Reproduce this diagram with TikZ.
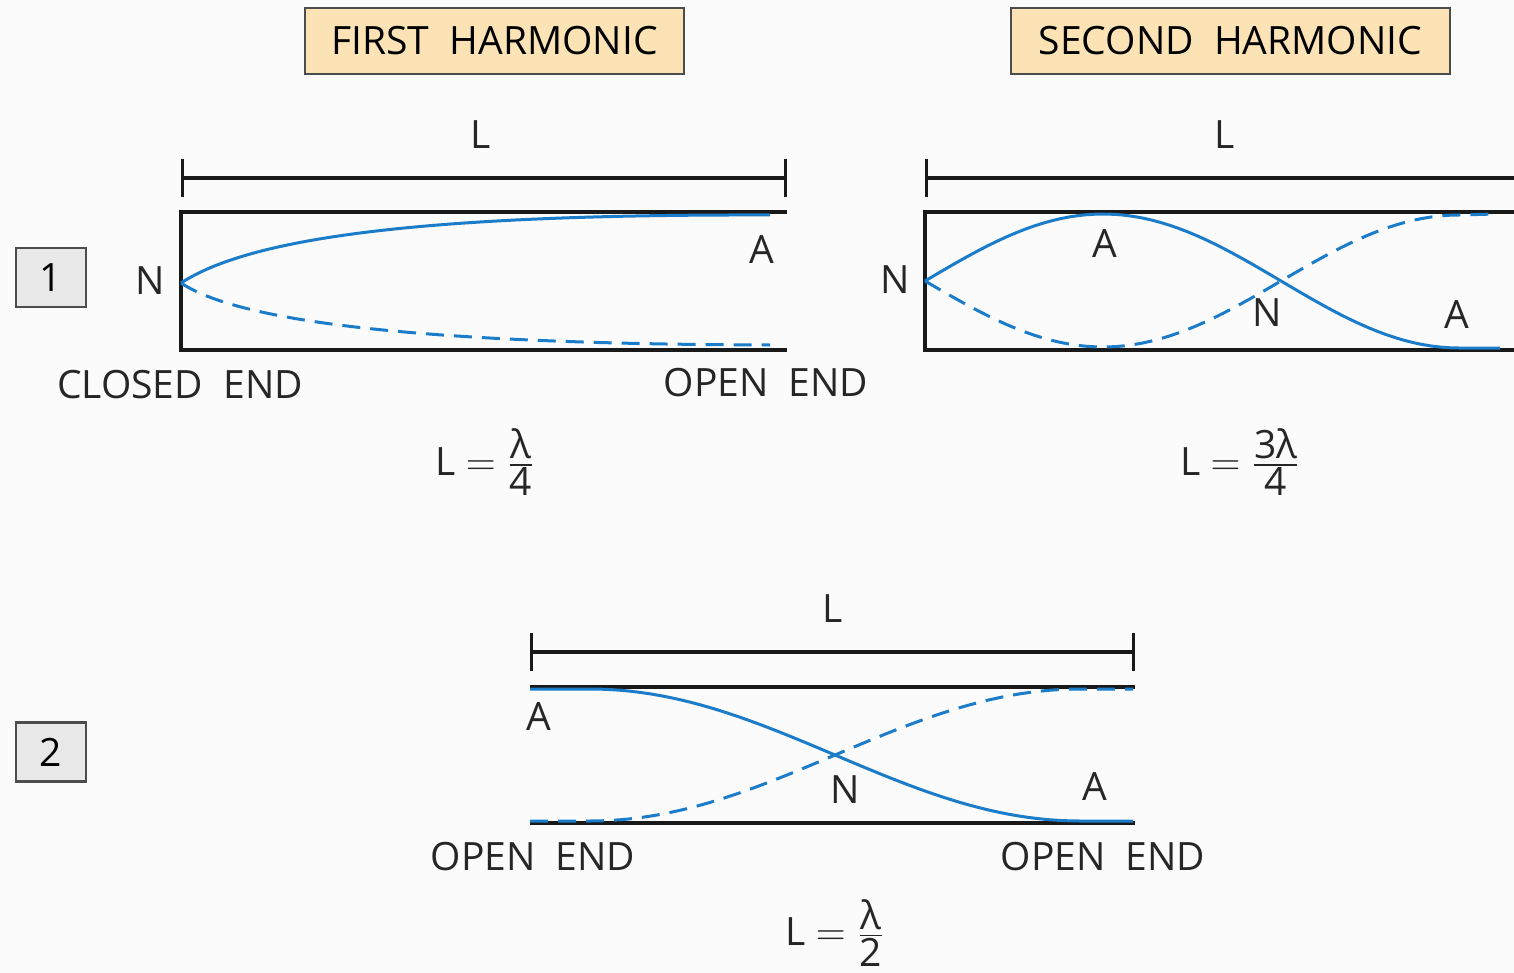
\documentclass[tikz,border=0pt]{standalone}
\usepackage{amsmath}
\usepackage{fontspec}
\setmainfont{Open Sans}
\usetikzlibrary{arrows.meta, positioning, calc}

\definecolor{wave}{HTML}{1B7CC9}
\definecolor{titlefill}{HTML}{FCE3B5}
\definecolor{numfill}{HTML}{E8E8E8}
\definecolor{paper}{HTML}{FBFBFB}

\begin{document}
\begin{tikzpicture}[
    x=0.5pt, y=-0.5pt,
    font=\fontsize{19.5}{23}\selectfont,
    line width=1.5pt,
    title/.style={draw=black!70, fill=titlefill, line width=1.2pt, minimum height=33pt, inner sep=0pt},
    numbox/.style={draw=black!70, fill=numfill, line width=1.2pt, minimum width=35pt, minimum height=29.5pt, inner sep=0pt},
    pipe/.style={draw=black!90, line width=1.6pt},
    dimline/.style={draw=black!90, line width=1.6pt, {Bar[width=19pt]}-{Bar[width=19pt]}},
    wave/.style={draw=wave, line width=1.5pt},
    wavedash/.style={wave, dash pattern=on 9pt off 5pt},
    lbl/.style={inner sep=0pt, text=black!85}
  ]
  \fill[paper] (0,0) rectangle (1514,973);
  \useasboundingbox (0,0) rectangle (1514,973);

  % --- titulos ---
  \node[title, minimum width=189.5pt] (first)  at (494.5,41) {FIRST~~HARMONIC};
  \node[title, minimum width=219.5pt] (second) at (1230.5,41) {SECOND~~HARMONIC};
  \node[numbox] (one) at (51,277.5) {1};
  \node[numbox] (two) at (51,752) {2};

  % --- tubo 1: cerrado / abierto ---
  \coordinate (atl) at (181,212);
  \coordinate (atr) at (787,212);
  \coordinate (abl) at (181,350);
  \coordinate (abr) at (787,350);
  \coordinate (adl) at (181,178);
  \coordinate (adr) at (787,178);
  \draw[pipe] (atr) -- (atl) -- (abl) -- (abr);
  \draw[dimline] (adl) -- (adr);
  \node[lbl] (aL) at (481,135) {L};
  \draw[wave] (181,283) .. controls (250,238) and (420,214) .. (770,215);
  \draw[wavedash] (181,283) .. controls (240,322) and (420,344) .. (770,345);
  \node[lbl] (aN) at (150,281) {N};
  \node[lbl] (aA) at (762,250) {A};
  \node[lbl] (aclosed) at (180,385) {CLOSED~~END};
  \node[lbl] (aopen) at (766,383) {OPEN~~END};
  \node[lbl] (aeq) at (485,462) {L $=\frac{\mbox{λ}}{\mbox{4}}$};

  % --- tubo 2: segundo armonico ---
  \coordinate (btl) at (925,212);
  \coordinate (btr) at (1520,212);
  \coordinate (bbl) at (925,350);
  \coordinate (bbr) at (1520,350);
  \coordinate (bdl) at (925,178);
  \coordinate (bdr) at (1520,178);
  \draw[pipe] (btr) -- (btl) -- (bbl) -- (bbr);
  \draw[pipe, {Bar[width=19pt]}-] (bdl) -- (bdr);
  \node[lbl] (bL) at (1225,135) {L};
  \draw[wave] plot[domain=0:3, samples=60] ({925+178*\x}, {281-67*sin(90*\x)}) -- (1500,348);
  \draw[wavedash] plot[domain=0:3, samples=60] ({925+178*\x}, {281+66*sin(90*\x)}) -- (1495,214);
  \node[lbl] (bN)  at (895,280) {N};
  \node[lbl] (bA)  at (1105,244) {A};
  \node[lbl] (bN2) at (1267,313) {N};
  \node[lbl] (bA2) at (1457,315) {A};
  \node[lbl] (beq) at (1240,462) {L $=\frac{\mbox{3λ}}{\mbox{4}}$};

  % --- tubo 3: abierto / abierto ---
  \coordinate (ctl) at (530,687);
  \coordinate (ctr) at (1135,687);
  \coordinate (cbl) at (530,823);
  \coordinate (cbr) at (1135,823);
  \coordinate (cdl) at (530,652);
  \coordinate (cdr) at (1135,652);
  \draw[pipe] (ctl) -- (ctr);
  \draw[pipe] (cbl) -- (cbr);
  \draw[dimline] (cdl) -- (cdr);
  \node[lbl] (cL) at (833,609) {L};
  \draw[wave] (530,689) -- plot[domain=0:1, samples=50] ({590+490*\x}, {755-66*cos(180*\x)}) -- (1133,821);
  \draw[wavedash] (530,821) -- plot[domain=0:1, samples=50] ({590+490*\x}, {755+66*cos(180*\x)}) -- (1133,689);
  \node[lbl] (cA)  at (539,717) {A};
  \node[lbl] (cN)  at (845,790) {N};
  \node[lbl] (cA2) at (1095,787) {A};
  \node[lbl] (copen)  at (533,857) {OPEN~~END};
  \node[lbl] (copen2) at (1103,857) {OPEN~~END};
  \node[lbl] (ceq) at (835,933) {L $=\frac{\mbox{λ}}{\mbox{2}}$};
\end{tikzpicture}
\end{document}
